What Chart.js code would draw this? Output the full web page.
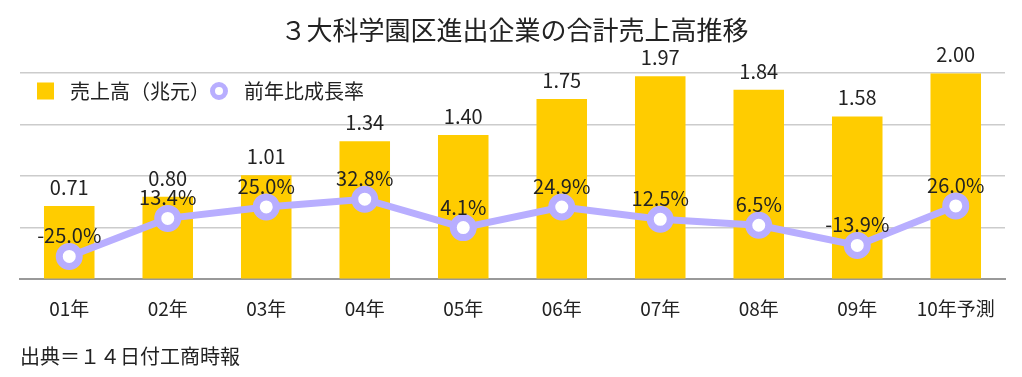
<!DOCTYPE html>
<html>
<head>
<meta charset="utf-8">
<script src="https://cdn.jsdelivr.net/npm/chart.js@4.4.1/dist/chart.umd.min.js"></script>
<style>
  html, body { margin: 0; padding: 0; background: #ffffff; }
  #wrap { width: 1022px; height: 377px; position: relative; }
</style>
</head>
<body>
<div id="wrap"><canvas id="c" width="1022" height="377"></canvas></div>
<script>
const titleText = '３大科学園区進出企業の合計売上高推移';
const sourceText = '出典＝１４日付工商時報';
const categories = ['01年', '02年', '03年', '04年', '05年', '06年', '07年', '08年', '09年', '10年予測'];
const salesLabel = '売上高（兆元）';
const sales = [0.71, 0.80, 1.01, 1.34, 1.40, 1.75, 1.97, 1.84, 1.58, 2.00];
const growthLabel = '前年比成長率';
const growth = [-25.0, 13.4, 25.0, 32.8, 4.1, 24.9, 12.5, 6.5, -13.9, 26.0];

const FONT = "'Noto Sans CJK JP', 'Noto Sans', sans-serif";
const TEXT = '#222222';
const YELLOW = '#FFCC00';
const LAVENDER = '#B8AEFF';

const labelPlugin = {
  id: 'valueLabels',
  afterDatasetsDraw(chart) {
    const ctx = chart.ctx;
    ctx.save();
    ctx.fillStyle = TEXT;
    ctx.textAlign = 'center';
    ctx.textBaseline = 'alphabetic';
    ctx.font = '20px ' + FONT;
    chart.data.datasets.forEach((ds, i) => {
      const meta = chart.getDatasetMeta(i);
      meta.data.forEach((el, j) => {
        const v = ds.data[j];
        if (ds.type === 'bar') {
          ctx.fillText(v.toFixed(2), el.x, el.y - 11);
        } else {
          ctx.fillText(v.toFixed(1) + '%', el.x, el.y - 13);
        }
      });
    });
    ctx.restore();
  }
};

const legendPlugin = {
  id: 'customLegend',
  afterDraw(chart) {
    const ctx = chart.ctx;
    const ds = chart.data.datasets;
    ctx.save();
    const cy = 91;
    ctx.fillStyle = ds[0].backgroundColor;
    ctx.fillRect(37, cy - 8.5, 17, 17);
    ctx.fillStyle = TEXT;
    ctx.font = '20px ' + FONT;
    ctx.textAlign = 'left';
    ctx.textBaseline = 'middle';
    ctx.fillText(ds[0].label, 70, cy);
    ctx.beginPath();
    ctx.arc(219, cy, 6.5, 0, Math.PI * 2);
    ctx.fillStyle = '#ffffff';
    ctx.fill();
    ctx.lineWidth = 5;
    ctx.strokeStyle = ds[1].borderColor;
    ctx.stroke();
    ctx.fillStyle = TEXT;
    ctx.fillText(ds[1].label, 244, cy);
    ctx.restore();
  }
};

new Chart(document.getElementById('c'), {
  data: {
    labels: categories,
    datasets: [
      {
        type: 'bar',
        label: salesLabel,
        data: sales,
        backgroundColor: YELLOW,
        borderWidth: 0,
        barPercentage: 0.513,
        categoryPercentage: 1.0,
        yAxisID: 'y',
        order: 2
      },
      {
        type: 'line',
        label: growthLabel,
        data: growth,
        borderColor: LAVENDER,
        borderWidth: 7,
        pointRadius: 10,
        pointHoverRadius: 10,
        pointBorderWidth: 7,
        pointBackgroundColor: '#ffffff',
        pointBorderColor: LAVENDER,
        tension: 0,
        yAxisID: 'y1',
        order: 1
      }
    ]
  },
  options: {
    responsive: false,
    animation: false,
    events: [],
    layout: { padding: { left: 20, right: 13, top: 0, bottom: 0 } },
    plugins: {
      legend: { display: false },
      tooltip: { enabled: false },
      title: {
        display: true,
        text: titleText,
        color: TEXT,
        font: { family: FONT, size: 26, weight: 'normal' },
        padding: { top: 15, bottom: 27 }
      },
      subtitle: {
        display: true,
        text: sourceText,
        position: 'bottom',
        align: 'start',
        color: TEXT,
        font: { family: FONT, size: 20, weight: 'normal' },
        padding: { top: 6, bottom: 9 }
      }
    },
    scales: {
      x: {
        grid: { display: false, drawTicks: false },
        border: { display: true, color: '#999999', width: 2 },
        ticks: { color: TEXT, font: { family: FONT, size: 19 }, padding: 18, maxRotation: 0, autoSkip: false },
        afterFit(scale) { scale.paddingLeft = 0; scale.paddingRight = 0; }
      },
      y: {
        position: 'left',
        min: 0,
        max: 2,
        ticks: { display: false, stepSize: 0.5 },
        grid: { color: '#cccccc', lineWidth: 1.5, drawTicks: false },
        border: { display: false }
      },
      y1: {
        display: false,
        min: -48,
        max: 160
      }
    }
  },
  plugins: [labelPlugin, legendPlugin]
});
</script>
</body>
</html>
